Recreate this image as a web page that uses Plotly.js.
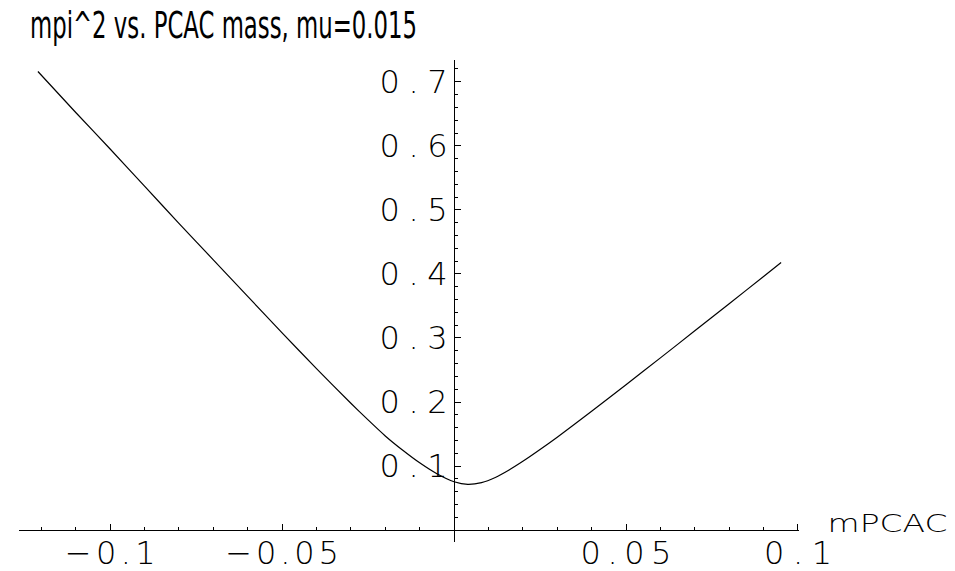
<!DOCTYPE html>
<html>
<head>
<meta charset="utf-8">
<script src="https://cdn.plot.ly/plotly-3.0.1.min.js"></script>
<style>html,body{margin:0;padding:0;background:#fff;}</style>
</head>
<body>
<div id="chart" style="width:955px;height:571px;"></div>
<script>
const mPCAC = [-0.121,-0.11,-0.10,-0.09,-0.08,-0.07,-0.06,-0.05,-0.04,-0.03,-0.025,-0.02,-0.015,-0.01,-0.005,0,0.004,0.008,0.012,0.016,0.02,0.025,0.03,0.04,0.05,0.06,0.07,0.08,0.09,0.0951];
const mpi2 = [0.716,0.652,0.595,0.537,0.479,0.422,0.365,0.308,0.252,0.198,0.172,0.147,0.125,0.105,0.088,0.0755,0.0714,0.0742,0.0822,0.0938,0.1073,0.1257,0.1451,0.1854,0.2269,0.2689,0.3111,0.3535,0.396,0.4177];
const xTickVals = [-0.1,-0.05,0.05,0.1];
const xTickText = ["\u22120.1","\u22120.05","0.05","0.1"];
const yTickVals = [0.1,0.2,0.3,0.4,0.5,0.6,0.7];
const yTickText = ["0.1","0.2","0.3","0.4","0.5","0.6","0.7"];
const titleText = "mpi^2 vs. PCAC mass, mu=0.015";
const xLabel = "mPCAC";

const xr = [-0.1265, 0.1003];
const yr = [-0.0186, 0.734];

const trace = {
  x: mPCAC, y: mpi2, type: 'scatter', mode: 'lines',
  line: {color: '#000', width: 1.2, shape: 'spline', smoothing: 0.6},
  hoverinfo: 'skip', showlegend: false
};

const thin = '"DejaVu Sans", sans-serif';
const tickFont = {family: thin, size: 32, weight: 200, color: '#000'};

const layout = {
  width: 955, height: 571,
  margin: {l: 19, r: 156, t: 60, b: 29, pad: 0},
  paper_bgcolor: '#fff', plot_bgcolor: '#fff',
  showlegend: false,
  title: {
    text: titleText,
    font: {family: thin, size: 38, weight: 400, color: '#000'},
    xref: 'container', yref: 'container',
    x: 30/955, xanchor: 'left',
    y: 1 - 25/571, yanchor: 'middle'
  },
  xaxis: {
    range: xr, showgrid: false, zeroline: false,
    showline: true, linecolor: '#000', linewidth: 1,
    anchor: 'free', position: (0 - yr[0])/(yr[1]-yr[0]),
    ticks: 'inside', ticklen: 6, tickwidth: 1, tickcolor: '#000',
    tickmode: 'array', tickvals: xTickVals, ticktext: xTickText,
    tickfont: tickFont, automargin: false,
    minor: {tickmode: 'linear', tick0: 0, dtick: 0.01, ticks: 'inside', ticklen: 3, tickwidth: 1, tickcolor: '#000', showgrid: false}
  },
  yaxis: {
    range: yr, showgrid: false, zeroline: false,
    showline: true, linecolor: '#000', linewidth: 1,
    anchor: 'free', position: (0 - xr[0])/(xr[1]-xr[0]),
    ticks: 'inside', ticklen: 6, tickwidth: 1, tickcolor: '#000',
    tickmode: 'array', tickvals: yTickVals, ticktext: yTickText,
    tickfont: tickFont, automargin: false,
    minor: {tickmode: 'linear', tick0: 0, dtick: 0.02, ticks: 'inside', ticklen: 3, tickwidth: 1, tickcolor: '#000', showgrid: false}
  },
  annotations: [{
    text: xLabel, xref: 'paper', yref: 'paper',
    x: (887-19)/780, xanchor: 'center',
    y: (542-523)/482, yanchor: 'middle',
    showarrow: false,
    font: {family: thin, size: 25, weight: 200, color: '#000'}
  }]
};

function fit(sel, perChar, total, mode) {
  document.querySelectorAll(sel).forEach(function(t) {
    const n = t.textContent.length;
    t.setAttribute('textLength', total ? total : n*perChar);
    t.setAttribute('lengthAdjust', mode || 'spacingAndGlyphs');
  });
}

Plotly.newPlot('chart', [trace], layout, {displayModeBar: false, staticPlot: true}).then(function() {
  fit('.gtitle', 0, 387);
  fit('.annotation-text', 0, 120);
  fit('.xtick text, .ytick text', 22.7, 0, 'spacing');
  document.querySelectorAll('g.xtick').forEach(function(g) {
    g.setAttribute('transform', 'translate(0,-5)');
  });
});
</script>
</body>
</html>
